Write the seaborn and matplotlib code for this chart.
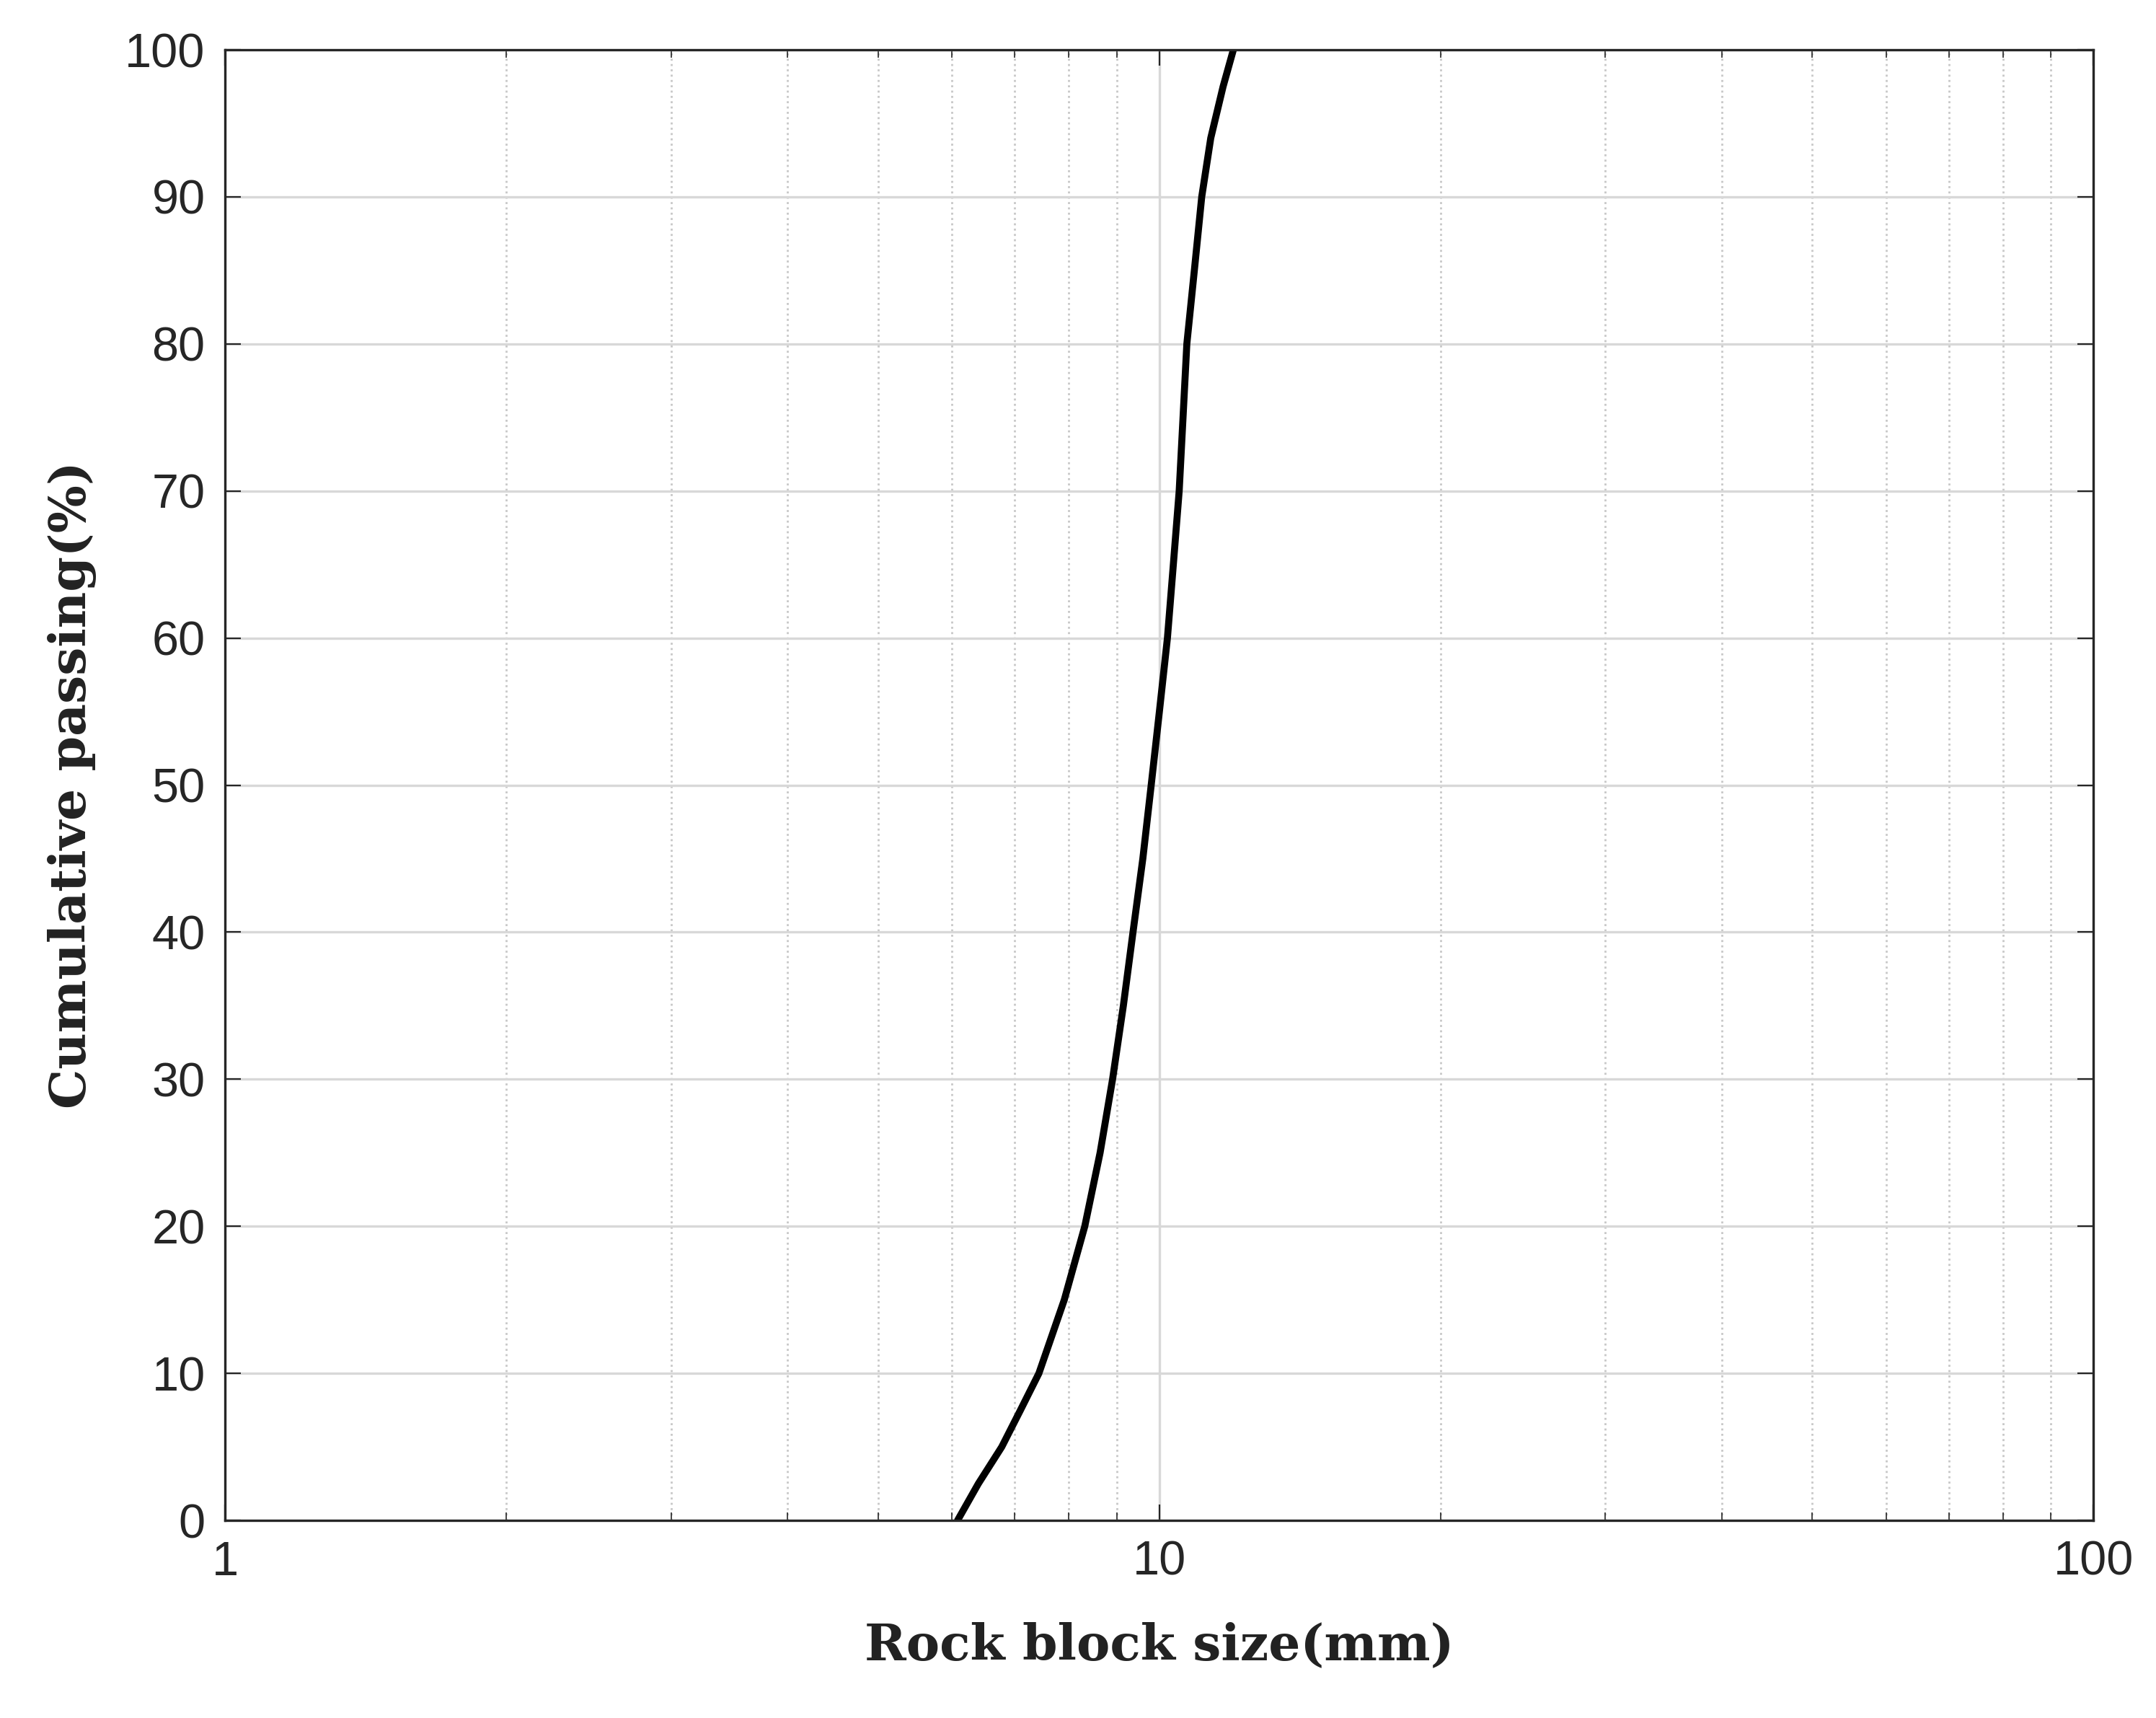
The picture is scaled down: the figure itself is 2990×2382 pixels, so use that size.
import numpy as np
import pandas as pd
import matplotlib
matplotlib.use("Agg")
import matplotlib.pyplot as plt
import seaborn as sns

size_mm = [6.08, 6.40, 6.78, 7.10, 7.43, 7.91, 8.32, 8.64, 8.91, 9.15, 9.37, 9.60, 9.80,
           10.0, 10.2, 10.35, 10.5, 10.6, 10.7, 10.9, 11.1, 11.35, 11.7, 12.0]
passing = [0, 2.5, 5, 7.5, 10, 15, 20, 25, 30, 35, 40, 45, 50,
           55, 60, 65, 70, 75, 80, 85, 90, 94, 97.5, 100]
df = pd.DataFrame({"size": size_mm, "passing": passing})

sns.set_style("white")
plt.rcParams['font.family'] = ['Liberation Sans', 'DejaVu Sans']

fig = plt.figure(figsize=(14.95, 11.91), dpi=200)
ax = fig.add_axes([0.1045, 0.115, 0.8665, 0.856])
sns.lineplot(data=df, x="size", y="passing", ax=ax, color="black", linewidth=3.5)
ax.set_xscale("log")
ax.set_xlim(1, 100)
ax.set_ylim(0, 100)
ax.set_yticks(range(0, 101, 10))
ax.set_xticks([1, 10, 100])
ax.set_xticklabels(["1", "10", "100"])
ax.grid(True, which="major", axis="both", color="#d8d8d8", linewidth=1.2, linestyle="-")
ax.grid(True, which="minor", axis="x", color="#c8c8c8", linewidth=1.0, linestyle=":")
ax.set_axisbelow(True)
for s in ax.spines.values():
    s.set_color("#262626")
    s.set_linewidth(1.2)
ax.tick_params(axis="both", which="major", labelsize=24, direction="in", length=8, colors="#262626",
               top=True, right=True, left=True, bottom=True, pad=10)
ax.tick_params(axis="x", which="minor", direction="in", length=4, top=True, bottom=True)
ax.set_xlabel("Rock block size(mm)", fontsize=25, fontweight="bold", family="DejaVu Serif", labelpad=18, color="#222222")
ax.set_ylabel("Cumulative passing(%)", fontsize=25, fontweight="bold", family="DejaVu Serif", labelpad=14, color="#222222")
fig.savefig("out.png", dpi=200)
